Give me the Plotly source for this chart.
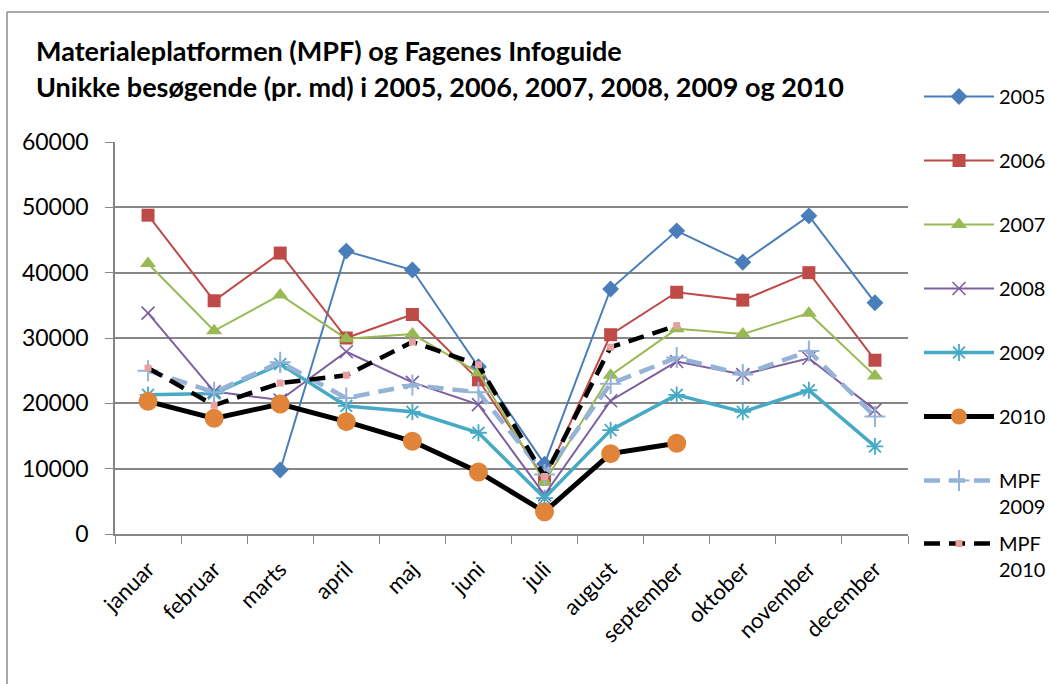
import plotly.graph_objects as go

months = ["januar", "februar", "marts", "april", "maj", "juni", "juli",
          "august", "september", "oktober", "november", "december"]

y2005 = [None, None, 9800, 43300, 40400, 25600, 10700, 37500, 46400, 41600, 48700, 35400]
y2006 = [48800, 35700, 43000, 30000, 33600, 23600, 8400, 30500, 37000, 35800, 40000, 26600]
y2007 = [41400, 31100, 36600, 29900, 30600, 24700, 8000, 24300, 31400, 30600, 33800, 24200]
y2008 = [33800, 21800, 20500, 27900, 23200, 19800, 6000, 20400, 26400, 24400, 26900, 19000]
y2009 = [21300, 21500, 26000, 19600, 18700, 15500, 5500, 15900, 21300, 18700, 22000, 13400]
y2010 = [20300, 17700, 19900, 17200, 14200, 9500, 3400, 12300, 13900, None, None, None]
mpf2009 = [25000, 21700, 26300, 20800, 22800, 21700, 9100, 23000, 27000, 24400, 28000, 18000]
mpf2010 = [25400, 19700, 23100, 24300, 29400, 25900, 8800, 28600, 31900, None, None, None]

ytick_vals = [0, 10000, 20000, 30000, 40000, 50000, 60000]

FONT = "Lato"
W, H = 1049, 684
L, R, T, B = 115, 141, 142, 150

series = [
    ("2005", y2005, dict(color="#4A7EBB", width=2), dict(symbol="diamond", size=13, color="#4A7EBB")),
    ("2006", y2006, dict(color="#BE4B48", width=2), dict(symbol="square", size=13, color="#BE4B48")),
    ("2007", y2007, dict(color="#98B954", width=2), dict(symbol="triangle-up", size=14, color="#98B954")),
    ("2008", y2008, dict(color="#7D60A0", width=2), dict(symbol="x-thin-open", size=13, color="#7D60A0", line=dict(width=1.6, color="#7D60A0"))),
    ("2009", y2009, dict(color="#46AAC5", width=3.5), dict(symbol="asterisk-open", size=14, color="#46AAC5", line=dict(width=1.8, color="#46AAC5"))),
    ("2010", y2010, dict(color="#000000", width=5), dict(symbol="circle", size=19, color="#E0843A")),
    ("MPF<br>2009", mpf2009, dict(color="#95B3D7", width=4.5, dash="16px,9px"), dict(symbol="cross-thin-open", size=15, color="#95B3D7", line=dict(width=2, color="#95B3D7"))),
    ("MPF<br>2010", mpf2010, dict(color="#000000", width=4.5, dash="16px,9px"), dict(symbol="square", size=7, color="#E6A0A0")),
]

fig = go.Figure()
for i, (name, vals, line, marker) in enumerate(series):
    fig.add_trace(go.Scatter(
        x=months, y=vals, name=name, mode="lines+markers",
        line=line, marker=marker, connectgaps=False,
        legendgroup=f"g{i}",
        legend="legend2" if i == len(series) - 1 else "legend",
    ))

pw, ph = W - L - R, H - T - B
def px_x(px):
    return (px - L) / pw
def px_y(py):
    return (H - B - py) / ph

legend_common = dict(
    x=px_x(919), xanchor="left", yanchor="top",
    font=dict(family=FONT, size=20, color="black"),
    tracegroupgap=35, itemwidth=70, bgcolor="rgba(0,0,0,0)",
    valign="top", maxheight=1,
)

fig.update_layout(
    width=W, height=H,
    margin=dict(l=L, r=R, t=T, b=B, autoexpand=False),
    paper_bgcolor="white", plot_bgcolor="white",
    font=dict(family=FONT, size=20, color="black"),
    showlegend=True,
    legend=dict(y=px_y(77), **legend_common),
    legend2=dict(y=px_y(524), **legend_common),
    xaxis=dict(
        type="category", categoryorder="array", categoryarray=months,
        range=[-0.5, len(months) - 0.5],
        showgrid=False, showline=True, linecolor="#868686", linewidth=1.5,
        ticks="outside", ticklen=8, tickcolor="#868686", tickson="boundaries",
        tickangle=-45, tickfont=dict(family=FONT, size=22, color="black"),
        zeroline=False, ticklabelstandoff=12,
    ),
    yaxis=dict(
        range=[0, 60000], tickvals=ytick_vals, tickformat="d",
        showgrid=True, gridcolor="#868686", gridwidth=1.5,
        showline=True, linecolor="#868686", linewidth=1.5,
        ticks="outside", ticklen=8, tickcolor="#868686",
        tickfont=dict(family=FONT, size=23, color="black"),
        zeroline=False, ticklabelstandoff=12,
    ),
)

# chart frame (left & top edges visible)
fig.add_shape(type="line", xref="paper", yref="paper",
              x0=px_x(7), x1=px_x(7), y0=px_y(12), y1=px_y(700),
              line=dict(color="#8C8C8C", width=1.5))
fig.add_shape(type="line", xref="paper", yref="paper",
              x0=px_x(7), x1=px_x(1060), y0=px_y(12), y1=px_y(12),
              line=dict(color="#8C8C8C", width=1.5))

fig.add_annotation(text="<b>Materialeplatformen (MPF) og Fagenes Infoguide</b>",
                   xref="paper", yref="paper", x=px_x(34), y=px_y(50),
                   xanchor="left", yanchor="middle", showarrow=False,
                   font=dict(family=FONT, size=27, color="black"))
fig.add_annotation(text="<b>Unikke besøgende (pr. md) i 2005, 2006, 2007, 2008, 2009 og 2010</b>",
                   xref="paper", yref="paper", x=px_x(34), y=px_y(87),
                   xanchor="left", yanchor="middle", showarrow=False,
                   font=dict(family=FONT, size=27, color="black"))

fig.write_html("out.html", config={"displayModeBar": False},
               post_script="document.body.style.margin='0px';")
